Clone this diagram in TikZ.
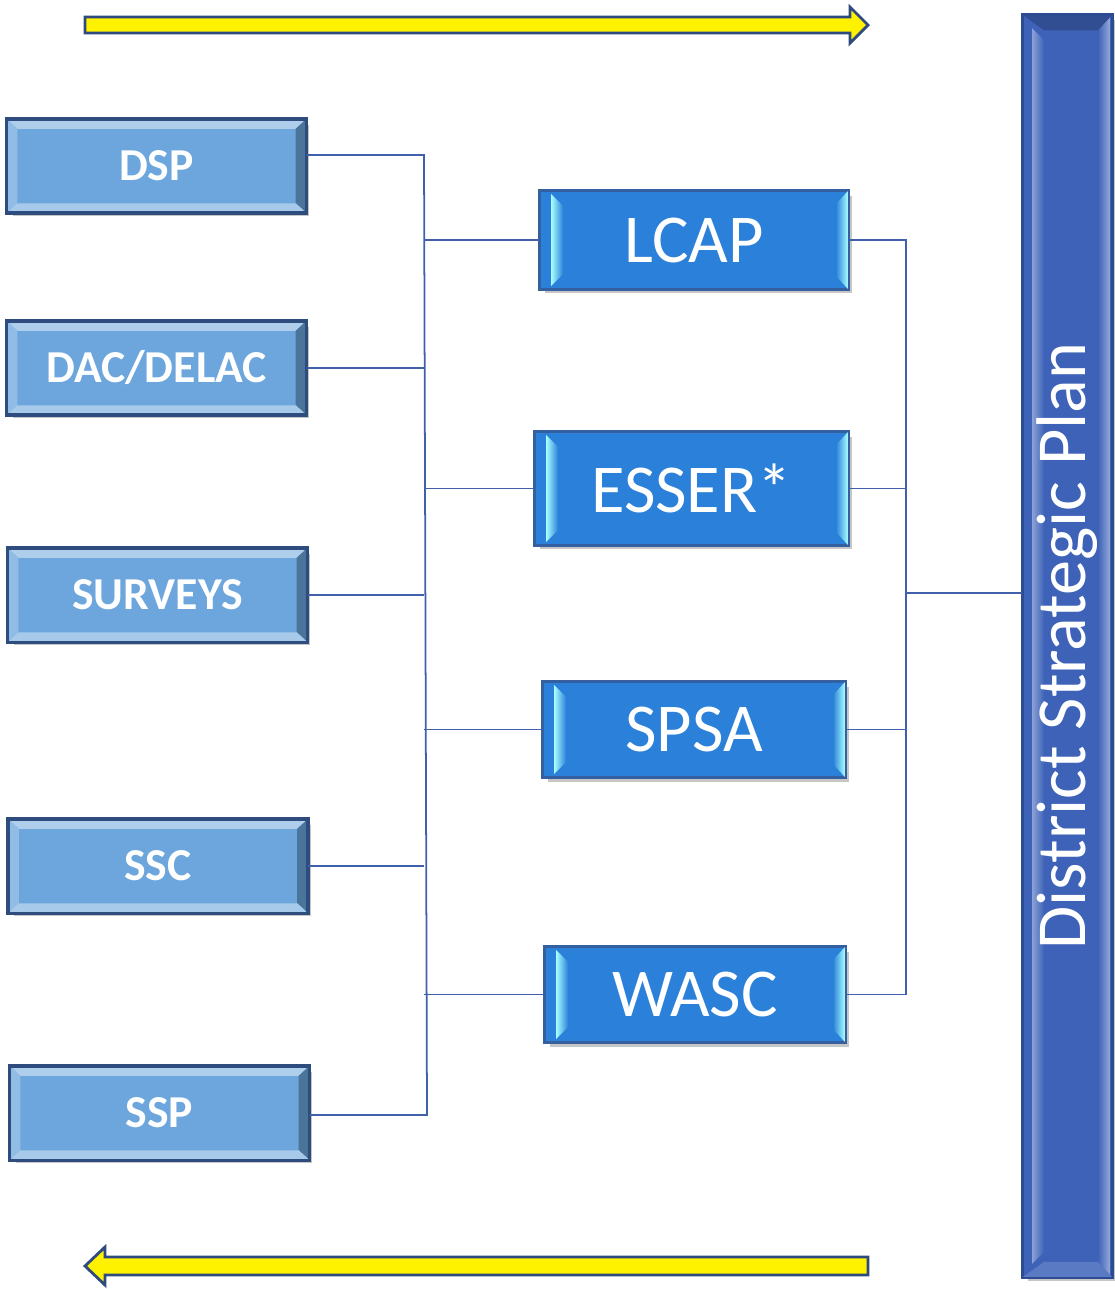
\documentclass[tikz,border=0pt]{standalone}
\usepackage{fontspec}
\setmainfont{Carlito}
\usepackage{graphicx}
\usetikzlibrary{shadows,calc}
\definecolor{leftface}{HTML}{6CA6DC}
\definecolor{leftedge}{HTML}{2E4C7E}
\definecolor{midface}{HTML}{2B80D9}
\definecolor{midedge}{HTML}{34609F}
\definecolor{barface}{HTML}{3D62B8}
\definecolor{baredge}{HTML}{2C4B93}
\definecolor{linecol}{HTML}{4060AC}
\definecolor{arrowedge}{HTML}{2F4A7E}
\tikzstyle{inputbox}=[draw=leftedge,line width=2pt,fill=leftface,text=white,inner sep=0pt,
  minimum width=5.94cm,minimum height=1.82cm,font=\fontsize{26}{30}\selectfont\bfseries,
  drop shadow={shadow xshift=0.09cm,shadow yshift=-0.09cm,opacity=0.45}]
\tikzstyle{planbox}=[draw=midedge,line width=1pt,fill=midface,text=white,inner sep=0pt,
  font=\fontsize{39}{44}\selectfont,
  drop shadow={shadow xshift=0.09cm,shadow yshift=-0.09cm,opacity=0.45}]
\tikzstyle{link}=[draw=linecol,line width=1pt]
\tikzstyle{flow}=[draw=arrowedge,line width=1.6pt,fill=yellow,line join=miter]

\begin{document}
\begin{tikzpicture}[x=0.02cm,y=-0.02cm]
\useasboundingbox (0,0) rectangle (1115,1289);

% yellow flow arrows
\draw[flow] (85,17) -- (850,17) -- (850,7) -- (868,25) -- (850,43) -- (850,33) -- (85,33) -- cycle;
\draw[flow] (868,1257) -- (105,1257) -- (105,1247) -- (85,1266) -- (105,1285) -- (105,1275) -- (868,1275) -- cycle;

% inputs
\node[inputbox] (dsp) at (156.5,166) {DSP};
\node[inputbox] (dac) at (156.5,368) {DAC/DELAC};
\node[inputbox] (surveys) at (157.5,595) {SURVEYS};
\node[inputbox] (ssc) at (158,866) {SSC};
\node[inputbox] (ssp) at (159.5,1113) {SSP};

\foreach \n in {dsp,dac,surveys,ssc,ssp}{
  \fill[leftface!55!white] (\n.north west) -- (\n.north east) -- ([shift={(-11,10)}]\n.north east) -- ([shift={(11,10)}]\n.north west) -- cycle;
  \fill[leftface!75!white] (\n.north west) -- ([shift={(11,10)}]\n.north west) -- ([shift={(11,-10)}]\n.south west) -- (\n.south west) -- cycle;
  \fill[leftface!70!black] (\n.north east) -- ([shift={(-11,10)}]\n.north east) -- ([shift={(-11,-10)}]\n.south east) -- (\n.south east) -- cycle;
  \fill[leftface!60!white] (\n.south west) -- ([shift={(11,-10)}]\n.south west) -- ([shift={(-11,-10)}]\n.south east) -- (\n.south east) -- cycle;
  \draw[leftedge,line width=2pt] (\n.north west) rectangle (\n.south east);
}

% plans
\node[planbox,minimum width=6.16cm,minimum height=1.96cm] (lcap) at (694,240) {LCAP};
\node[planbox,minimum width=6.26cm,minimum height=2.26cm] (esser) at (691.5,488.5) {ESSER*};
\node[planbox,minimum width=6.04cm,minimum height=1.9cm] (spsa) at (694,729.5) {SPSA};
\node[planbox,minimum width=6.0cm,minimum height=1.9cm] (wasc) at (695,994.5) {WASC};

\foreach \n in {lcap,esser,spsa,wasc}{
  \shade[left color=cyan!35!white,right color=midface] ([shift={(12,4)}]\n.north west) -- ([shift={(24,16)}]\n.north west) -- ([shift={(24,-16)}]\n.south west) -- ([shift={(12,-4)}]\n.south west) -- cycle;
  \shade[left color=midface,right color=cyan!35!white] ([shift={(-1,1)}]\n.north east) -- ([shift={(-13,14)}]\n.north east) -- ([shift={(-13,-14)}]\n.south east) -- ([shift={(-1,-1)}]\n.south east) -- cycle;
  \draw[midedge,line width=1pt] (\n.north west) rectangle (\n.south east);
}

% district plan bar
\node[draw=baredge,line width=1pt,fill=barface,inner sep=0pt,
  minimum width=1.78cm,minimum height=25.24cm,
  drop shadow={shadow xshift=0.09cm,shadow yshift=-0.09cm,opacity=0.45}]
  (plan) at (1067.5,646) {};
\shade[left color=barface!60!white,right color=barface] ([shift={(10,14)}]plan.north west) -- ([shift={(22,26)}]plan.north west) -- ([shift={(22,-26)}]plan.south west) -- ([shift={(10,-14)}]plan.south west) -- cycle;
\shade[left color=barface,right color=barface!55!white] ([shift={(-3,3)}]plan.north east) -- ([shift={(-15,16)}]plan.north east) -- ([shift={(-15,-16)}]plan.south east) -- ([shift={(-3,-3)}]plan.south east) -- cycle;
\fill[barface!80!black] ([shift={(1,1)}]plan.north west) -- ([shift={(-1,1)}]plan.north east) -- ([shift={(-15,16)}]plan.north east) -- ([shift={(22,16)}]plan.north west) -- cycle;
\fill[barface!85!white] ([shift={(1,-1)}]plan.south west) -- ([shift={(-1,-1)}]plan.south east) -- ([shift={(-15,-16)}]plan.south east) -- ([shift={(22,-16)}]plan.south west) -- cycle;
\draw[baredge,line width=1pt] (plan.north west) rectangle (plan.south east);
\node[text=white,font=\fontsize{40}{44}\selectfont] (planlabel) at (plan.center) {\rotatebox{90}{District Strategic Plan}};

% connectors
\coordinate (lbtop) at (424,155);
\coordinate (lbbot) at (427,1115);
\coordinate (rbtop) at (906,240);
\coordinate (rbmid) at (906,593);

\draw[link] (dsp.east |- lbtop) -- (lbtop) -- (lbbot) -- (ssp.east |- lbbot);
\draw[link] (dac.east) -- (dac.east -| lbtop);
\draw[link] (surveys.east) -- (surveys.east -| lbtop);
\draw[link] (ssc.east) -- (ssc.east -| lbtop);

\draw[link] (lcap.west -| lbtop) -- (lcap.west);
\draw[link] (esser.west -| lbtop) -- (esser.west);
\draw[link] (spsa.west -| lbtop) -- (spsa.west);
\draw[link] (wasc.west -| lbtop) -- (wasc.west);

\draw[link] (lcap.east) -- (lcap.east -| rbtop) -- (wasc.east -| rbtop) -- (wasc.east);
\draw[link] (esser.east) -- (esser.east -| rbtop);
\draw[link] (spsa.east) -- (spsa.east -| rbtop);
\draw[link] (rbmid) -- (plan.west |- rbmid);
\end{tikzpicture}
\end{document}
